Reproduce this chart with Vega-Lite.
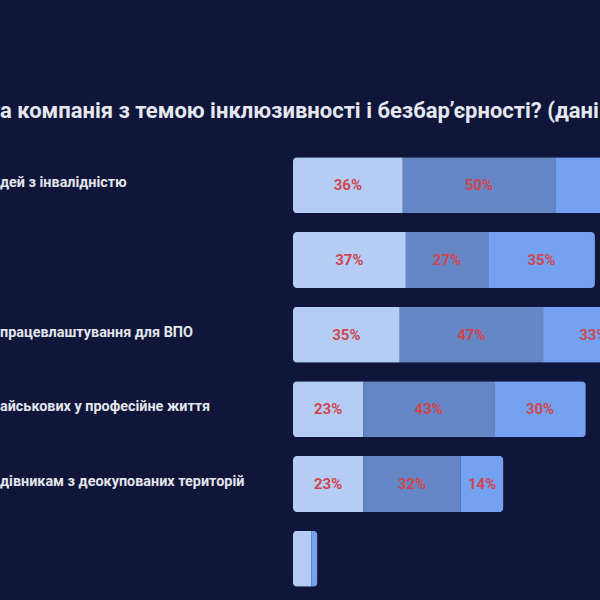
{
  "$schema": "https://vega.github.io/schema/vega-lite/v6.json",
  "autosize": {"type": "none"},
  "width": 600,
  "height": 448,
  "padding": {"top": 148, "left": 0, "right": 0, "bottom": 4},
  "background": "#10163a",
  "config": {"view": {"stroke": null}, "font": "Roboto"},
  "title": {
    "text": "а компанія з темою інклюзивності і безбар’єрності? (дані у %)",
    "anchor": "start",
    "frame": "group",
    "orient": "top",
    "offset": 25,
    "fontSize": 22,
    "fontWeight": "bold",
    "color": "#e6e8f0",
    "font": "Roboto"
  },
  "datasets": {
    "bars": [
      {"item": "1", "group": "Варіант 1", "value": 0.36},
      {"item": "1", "group": "Варіант 2", "value": 0.50},
      {"item": "1", "group": "Варіант 3", "value": 0.45},
      {"item": "2", "group": "Варіант 1", "value": 0.37},
      {"item": "2", "group": "Варіант 2", "value": 0.27},
      {"item": "2", "group": "Варіант 3", "value": 0.35},
      {"item": "3", "group": "Варіант 1", "value": 0.35},
      {"item": "3", "group": "Варіант 2", "value": 0.47},
      {"item": "3", "group": "Варіант 3", "value": 0.33},
      {"item": "4", "group": "Варіант 1", "value": 0.23},
      {"item": "4", "group": "Варіант 2", "value": 0.43},
      {"item": "4", "group": "Варіант 3", "value": 0.30},
      {"item": "5", "group": "Варіант 1", "value": 0.23},
      {"item": "5", "group": "Варіант 2", "value": 0.32},
      {"item": "5", "group": "Варіант 3", "value": 0.14},
      {"item": "6", "group": "Варіант 1", "value": 0.06},
      {"item": "6", "group": "Варіант 2", "value": 0.0},
      {"item": "6", "group": "Варіант 3", "value": 0.02}
    ],
    "labels": [
      {"item": "1", "label": "дей з інвалідністю"},
      {"item": "2", "label": ""},
      {"item": "3", "label": "працевлаштування для ВПО"},
      {"item": "4", "label": "айськових у професійне життя"},
      {"item": "5", "label": "дівникам з деокупованих територій"},
      {"item": "6", "label": ""}
    ]
  },
  "encoding": {
    "y": {
      "field": "item",
      "type": "nominal",
      "sort": null,
      "axis": null,
      "scale": {"domain": ["1", "2", "3", "4", "5", "6"], "paddingInner": 0.25, "paddingOuter": 0.125}
    }
  },
  "layer": [
    {
      "data": {"name": "bars"},
      "mark": {"type": "bar", "cornerRadius": 4},
      "encoding": {
        "x": {
          "field": "value",
          "type": "quantitative",
          "stack": "zero",
          "axis": null,
          "scale": {"domain": [-0.9607, 1.0066], "nice": false, "zero": false}
        },
        "color": {
          "field": "group",
          "type": "nominal",
          "legend": null,
          "scale": {"domain": ["Варіант 1", "Варіант 2", "Варіант 3"], "range": ["#b5cdf5", "#6586c5", "#74a2f0"]}
        },
        "order": {"field": "group", "sort": "ascending"}
      }
    },
    {
      "data": {"name": "bars"},
      "transform": [{"filter": "datum.value >= 0.1"}],
      "mark": {"type": "text", "font": "Roboto", "fontWeight": "bold", "fontSize": 15, "color": "#cf4650", "baseline": "middle", "align": "center"},
      "encoding": {
        "x": {"field": "value", "type": "quantitative", "stack": "zero", "bandPosition": 0.5},
        "detail": {"field": "group"},
        "order": {"field": "group", "sort": "ascending"},
        "text": {"field": "value", "type": "quantitative", "format": ".0%"}
      }
    },
    {
      "data": {"name": "labels"},
      "mark": {"type": "text", "font": "Roboto", "fontWeight": "bold", "fontSize": 14.4, "color": "#e4e6ee", "baseline": "middle", "align": "left", "dy": -2},
      "encoding": {
        "x": {"datum": -0.9607, "type": "quantitative"},
        "text": {"field": "label"}
      }
    }
  ]
}
